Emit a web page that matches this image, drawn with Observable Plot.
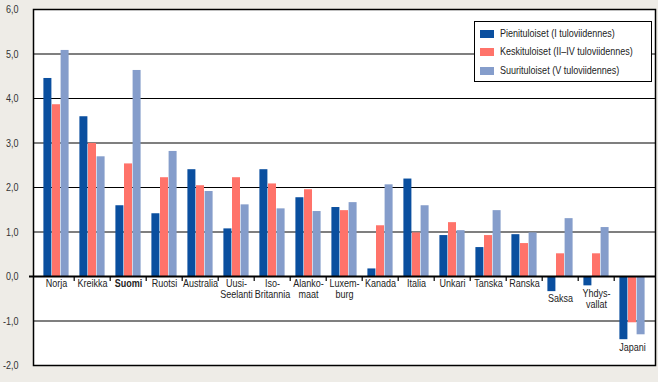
<!DOCTYPE html>
<html>
<head>
<meta charset="utf-8">
<script src="https://cdn.jsdelivr.net/npm/d3@7"></script>
<script src="https://cdn.jsdelivr.net/npm/@observablehq/plot@0.6"></script>
<style>
  body { margin: 0; background: #eeece7; }
  #wrap { position: relative; width: 658px; height: 382px; background: #eeece7;
    font-family: "Liberation Sans", Arial, sans-serif; }
  #legend { position: absolute; left: 474px; top: 21px; width: 176px; height: 59px;
    border: 1px solid #000; background: #fff; font-size: 11px; color: #222; }
  .item { position: absolute; left: 5px; height: 12px; line-height: 12px; white-space: nowrap; }
  .sw { display: inline-block; width: 14px; height: 8px; vertical-align: -1px; margin-right: 6px; }
  .nm { display: inline-block; transform: scaleX(0.82); transform-origin: 0 50%; }
</style>
</head>
<body>
<div id="wrap"></div>
<script>
const countries = ["Norja","Kreikka","Suomi","Ruotsi","Australia","Uusi-Seelanti","Iso-Britannia","Alankomaat","Luxemburg","Kanada","Italia","Unkari","Tanska","Ranska","Saksa","Yhdysvallat","Japani"];
const labels = ["Norja","Kreikka","Suomi","Ruotsi","Australia","Uusi-\nSeelanti","Iso-\nBritannia","Alanko-\nmaat","Luxem-\nburg","Kanada","Italia","Unkari","Tanska","Ranska","Saksa","Yhdys-\nvallat","Japani"];
const pieni = [4.45, 3.59, 1.59, 1.41, 2.40, 1.07, 2.40, 1.77, 1.55, 0.17, 2.19, 0.92, 0.65, 0.94, -0.34, -0.21, -1.42];
const keski = [3.86, 2.99, 2.53, 2.22, 2.04, 2.22, 2.08, 1.95, 1.48, 1.14, 0.98, 1.21, 0.92, 0.74, 0.51, 0.51, -1.04];
const suuri = [5.08, 2.69, 4.63, 2.81, 1.91, 1.61, 1.52, 1.46, 1.66, 2.06, 1.59, 1.03, 1.48, 0.98, 1.30, 1.10, -1.31];
const seriesNames = ["Pienituloiset (I tuloviidennes)", "Keskituloiset (II\u2013IV tuloviidennes)", "Suurituloiset (V tuloviidennes)"];
const colors = ["#0a4f9f", "#ff736a", "#859dcb"];
const yTicks = [-2, -1, 0, 1, 2, 3, 4, 5, 6];
const highlight = "Suomi";

const rows = countries.map((c, i) => ({
  country: c, label: labels[i], pieni: pieni[i], keski: keski[i], suuri: suuri[i],
  low: Math.min(0, pieni[i], keski[i], suuri[i])
}));
const fmt = d => d.toFixed(1).replace(".", ",");
const fields = ["pieni", "keski", "suuri"];
const offsets = [-8.6, 0, 8.6];

const chart = Plot.plot({
  width: 658, height: 382,
  marginLeft: 33, marginRight: 3, marginTop: 9, marginBottom: 17,
  style: { background: "#eeece7", fontFamily: "'Liberation Sans', Arial, sans-serif", fontSize: "11px", color: "#222" },
  x: { type: "band", domain: countries, padding: 0, axis: null },
  y: { domain: [-2, 6], axis: null },
  marks: [
    Plot.frame({ fill: "white", stroke: null }),
    Plot.ruleY(yTicks.filter(d => d !== 0), { stroke: "#000", strokeWidth: 1.2 }),
    ...fields.map((f, k) => Plot.barY(rows, { x: "country", y: f, fill: colors[k], dx: offsets[k], insetLeft: 14, insetRight: 14 })),
    Plot.ruleY([0], { stroke: "#000", strokeWidth: 2, insetLeft: -4 }),
    Plot.ruleX(countries.slice(1), { x: d => d, y1: () => 0, y2: () => 0, insetBottom: -5, dx: -18.3, stroke: "#000", strokeWidth: 1.2 }),
    Plot.frame({ stroke: "#000", strokeWidth: 1.5 }),
    Plot.axisY(yTicks, { tickSize: 0, tickPadding: 15, tickFormat: fmt, fontSize: 11, fill: "#333" }),
    Plot.text(rows, { filter: d => d.country !== highlight, x: "country", y: "low", text: "label", lineAnchor: "top", dy: 3, lineHeight: 1, fontSize: 11, fill: "#222" }),
    Plot.text(rows, { filter: d => d.country === highlight, x: "country", y: "low", text: "label", lineAnchor: "top", dy: 3, lineHeight: 1, fontSize: 11, fontWeight: "bold", fill: "#222" })
  ]
});
// condensed look: narrow each text around its own anchor point
chart.querySelectorAll("text").forEach(t => {
  const tr = t.getAttribute("transform") || "";
  t.setAttribute("transform", `${tr} scale(0.82,1)`);
});
const wrap = document.getElementById("wrap");
wrap.appendChild(chart);

const legend = document.createElement("div");
legend.id = "legend";
seriesNames.forEach((name, k) => {
  const it = document.createElement("div");
  it.className = "item";
  it.style.top = (5 + k * 18.3) + "px";
  const sw = document.createElement("span");
  sw.className = "sw";
  sw.style.background = colors[k];
  const nm = document.createElement("span");
  nm.className = "nm";
  nm.textContent = name;
  it.appendChild(sw);
  it.appendChild(nm);
  legend.appendChild(it);
});
wrap.appendChild(legend);
</script>
</body>
</html>
